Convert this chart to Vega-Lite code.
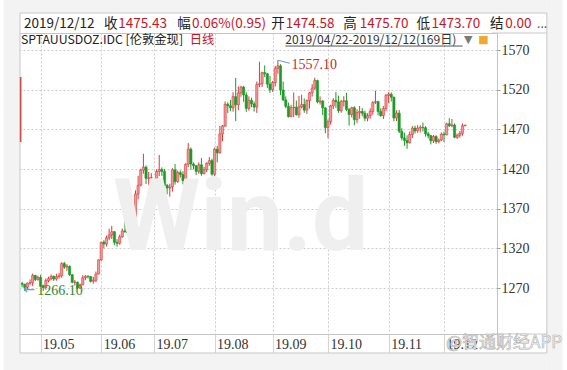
{
  "$schema": "https://vega.github.io/schema/vega-lite/v6.json",
  "width": 482,
  "height": 301,
  "autosize": {"type": "none"},
  "padding": {"left": 15, "top": 33, "right": 70, "bottom": 36},
  "background": "#ffffff",
  "config": {"view": {"stroke": "#c4c4c4", "fill": "#ffffff"}},
  "datasets": {
    "candles": [
      {"date":"2019-04-22","open":1275.6,"high":1277.9,"low":1270.8,"close":1274.6},
      {"date":"2019-04-23","open":1274.6,"high":1275.5,"low":1266.1,"close":1270.8},
      {"date":"2019-04-24","open":1270.8,"high":1277.0,"low":1267.5,"close":1276.3},
      {"date":"2019-04-25","open":1276.3,"high":1280.8,"low":1273.4,"close":1276.6},
      {"date":"2019-04-26","open":1276.6,"high":1288.2,"low":1272.4,"close":1285.9},
      {"date":"2019-04-29","open":1285.9,"high":1286.6,"low":1278.8,"close":1280.8},
      {"date":"2019-04-30","open":1280.8,"high":1285.5,"low":1279.2,"close":1283.5},
      {"date":"2019-05-01","open":1283.5,"high":1286.6,"low":1271.7,"close":1272.9},
      {"date":"2019-05-02","open":1272.9,"high":1274.2,"low":1266.3,"close":1270.6},
      {"date":"2019-05-03","open":1270.6,"high":1282.0,"low":1267.8,"close":1279.3},
      {"date":"2019-05-06","open":1279.3,"high":1284.3,"low":1277.0,"close":1281.7},
      {"date":"2019-05-07","open":1281.7,"high":1287.0,"low":1279.5,"close":1284.6},
      {"date":"2019-05-08","open":1284.6,"high":1285.8,"low":1278.8,"close":1281.3},
      {"date":"2019-05-09","open":1281.3,"high":1288.0,"low":1279.2,"close":1284.3},
      {"date":"2019-05-10","open":1284.3,"high":1289.0,"low":1281.9,"close":1285.4},
      {"date":"2019-05-13","open":1285.4,"high":1302.5,"low":1283.0,"close":1300.8},
      {"date":"2019-05-14","open":1300.8,"high":1303.0,"low":1294.0,"close":1296.3},
      {"date":"2019-05-15","open":1296.3,"high":1300.2,"low":1291.5,"close":1297.3},
      {"date":"2019-05-16","open":1297.3,"high":1298.5,"low":1285.3,"close":1286.6},
      {"date":"2019-05-17","open":1286.6,"high":1287.5,"low":1275.9,"close":1277.2},
      {"date":"2019-05-20","open":1277.2,"high":1280.1,"low":1273.0,"close":1277.4},
      {"date":"2019-05-21","open":1277.4,"high":1278.0,"low":1268.9,"close":1269.9},
      {"date":"2019-05-22","open":1269.9,"high":1275.6,"low":1269.0,"close":1274.0},
      {"date":"2019-05-23","open":1274.0,"high":1286.2,"low":1273.4,"close":1283.0},
      {"date":"2019-05-24","open":1283.0,"high":1286.1,"low":1280.0,"close":1284.9},
      {"date":"2019-05-27","open":1284.9,"high":1286.1,"low":1281.9,"close":1284.4},
      {"date":"2019-05-28","open":1284.4,"high":1285.0,"low":1276.9,"close":1278.4},
      {"date":"2019-05-29","open":1278.4,"high":1284.2,"low":1275.4,"close":1279.8},
      {"date":"2019-05-30","open":1279.8,"high":1290.8,"low":1277.4,"close":1287.6},
      {"date":"2019-05-31","open":1287.6,"high":1306.0,"low":1287.1,"close":1305.6},
      {"date":"2019-06-03","open":1305.6,"high":1328.6,"low":1303.9,"close":1327.6},
      {"date":"2019-06-04","open":1327.6,"high":1330.2,"low":1320.0,"close":1325.4},
      {"date":"2019-06-05","open":1325.4,"high":1336.0,"low":1322.3,"close":1333.3},
      {"date":"2019-06-06","open":1333.3,"high":1344.8,"low":1330.6,"close":1336.8},
      {"date":"2019-06-07","open":1336.8,"high":1348.3,"low":1331.9,"close":1341.0},
      {"date":"2019-06-10","open":1341.0,"high":1341.6,"low":1323.9,"close":1327.5},
      {"date":"2019-06-11","open":1327.5,"high":1331.6,"low":1322.1,"close":1326.3},
      {"date":"2019-06-12","open":1326.3,"high":1337.3,"low":1324.6,"close":1334.5},
      {"date":"2019-06-13","open":1334.5,"high":1345.0,"low":1333.3,"close":1342.0},
      {"date":"2019-06-14","open":1342.0,"high":1358.3,"low":1339.6,"close":1341.0},
      {"date":"2019-06-17","open":1341.0,"high":1342.3,"low":1336.6,"close":1339.4},
      {"date":"2019-06-18","open":1339.4,"high":1355.7,"low":1334.0,"close":1346.3},
      {"date":"2019-06-19","open":1346.3,"high":1361.3,"low":1340.9,"close":1360.2},
      {"date":"2019-06-20","open":1360.2,"high":1393.1,"low":1359.1,"close":1388.4},
      {"date":"2019-06-21","open":1388.4,"high":1411.5,"low":1381.6,"close":1399.5},
      {"date":"2019-06-24","open":1399.5,"high":1420.3,"low":1398.0,"close":1418.6},
      {"date":"2019-06-25","open":1418.6,"high":1439.2,"low":1414.1,"close":1422.3},
      {"date":"2019-06-26","open":1422.3,"high":1424.6,"low":1401.1,"close":1408.2},
      {"date":"2019-06-27","open":1408.2,"high":1416.4,"low":1400.2,"close":1408.9},
      {"date":"2019-06-28","open":1408.9,"high":1414.7,"low":1398.8,"close":1409.2},
      {"date":"2019-07-01","open":1395.0,"high":1395.9,"low":1381.9,"close":1384.4},
      {"date":"2019-07-02","open":1384.4,"high":1419.5,"low":1383.0,"close":1416.8},
      {"date":"2019-07-03","open":1416.8,"high":1437.7,"low":1411.1,"close":1419.4},
      {"date":"2019-07-04","open":1419.4,"high":1422.0,"low":1411.3,"close":1417.0},
      {"date":"2019-07-05","open":1417.0,"high":1420.1,"low":1386.3,"close":1399.4},
      {"date":"2019-07-08","open":1399.4,"high":1401.0,"low":1388.1,"close":1396.0},
      {"date":"2019-07-09","open":1396.0,"high":1401.5,"low":1385.1,"close":1397.4},
      {"date":"2019-07-10","open":1397.4,"high":1421.0,"low":1391.5,"close":1419.0},
      {"date":"2019-07-11","open":1419.0,"high":1426.3,"low":1400.3,"close":1404.0},
      {"date":"2019-07-12","open":1404.0,"high":1418.0,"low":1402.7,"close":1415.5},
      {"date":"2019-07-15","open":1415.5,"high":1418.2,"low":1409.0,"close":1413.0},
      {"date":"2019-07-16","open":1413.0,"high":1417.3,"low":1400.6,"close":1405.5},
      {"date":"2019-07-17","open":1405.5,"high":1427.2,"low":1403.8,"close":1426.0},
      {"date":"2019-07-18","open":1426.0,"high":1452.6,"low":1422.5,"close":1445.0},
      {"date":"2019-07-19","open":1445.0,"high":1447.1,"low":1419.0,"close":1426.3},
      {"date":"2019-07-22","open":1426.3,"high":1428.3,"low":1419.7,"close":1424.0},
      {"date":"2019-07-23","open":1424.0,"high":1425.2,"low":1412.3,"close":1417.0},
      {"date":"2019-07-24","open":1417.0,"high":1428.3,"low":1414.1,"close":1425.3},
      {"date":"2019-07-25","open":1425.3,"high":1433.7,"low":1411.6,"close":1414.1},
      {"date":"2019-07-26","open":1414.1,"high":1422.8,"low":1413.3,"close":1419.2},
      {"date":"2019-07-29","open":1419.2,"high":1428.5,"low":1416.0,"close":1427.0},
      {"date":"2019-07-30","open":1427.0,"high":1435.0,"low":1424.0,"close":1430.6},
      {"date":"2019-07-31","open":1430.6,"high":1433.0,"low":1411.5,"close":1413.5},
      {"date":"2019-08-01","open":1413.5,"high":1447.1,"low":1400.2,"close":1445.0},
      {"date":"2019-08-02","open":1445.0,"high":1449.0,"low":1428.5,"close":1440.4},
      {"date":"2019-08-05","open":1440.4,"high":1474.4,"low":1439.3,"close":1464.2},
      {"date":"2019-08-06","open":1464.2,"high":1475.5,"low":1455.1,"close":1474.3},
      {"date":"2019-08-07","open":1474.3,"high":1505.3,"low":1473.0,"close":1501.6},
      {"date":"2019-08-08","open":1501.6,"high":1504.2,"low":1490.5,"close":1499.7},
      {"date":"2019-08-09","open":1499.7,"high":1507.2,"low":1492.8,"close":1497.2},
      {"date":"2019-08-12","open":1497.2,"high":1516.8,"low":1492.3,"close":1511.2},
      {"date":"2019-08-13","open":1511.2,"high":1534.9,"low":1480.4,"close":1501.0},
      {"date":"2019-08-14","open":1501.0,"high":1524.2,"low":1494.1,"close":1516.0},
      {"date":"2019-08-15","open":1516.0,"high":1524.8,"low":1511.0,"close":1523.3},
      {"date":"2019-08-16","open":1523.3,"high":1524.9,"low":1504.6,"close":1513.3},
      {"date":"2019-08-19","open":1513.3,"high":1516.7,"low":1492.0,"close":1496.4},
      {"date":"2019-08-20","open":1496.4,"high":1511.5,"low":1493.5,"close":1506.6},
      {"date":"2019-08-21","open":1506.6,"high":1510.0,"low":1498.0,"close":1502.0},
      {"date":"2019-08-22","open":1502.0,"high":1505.0,"low":1492.4,"close":1498.0},
      {"date":"2019-08-23","open":1498.0,"high":1530.4,"low":1490.7,"close":1526.6},
      {"date":"2019-08-26","open":1526.6,"high":1555.2,"low":1523.0,"close":1527.5},
      {"date":"2019-08-27","open":1527.5,"high":1542.7,"low":1523.3,"close":1541.5},
      {"date":"2019-08-28","open":1541.5,"high":1550.6,"low":1535.8,"close":1540.0},
      {"date":"2019-08-29","open":1540.0,"high":1541.3,"low":1522.0,"close":1527.0},
      {"date":"2019-08-30","open":1527.0,"high":1537.3,"low":1516.0,"close":1520.0},
      {"date":"2019-09-02","open":1520.0,"high":1531.0,"low":1517.3,"close":1529.0},
      {"date":"2019-09-03","open":1529.0,"high":1550.0,"low":1523.8,"close":1547.0},
      {"date":"2019-09-04","open":1547.0,"high":1557.1,"low":1540.0,"close":1550.0},
      {"date":"2019-09-05","open":1550.0,"high":1552.0,"low":1513.0,"close":1519.5},
      {"date":"2019-09-06","open":1519.5,"high":1530.2,"low":1505.8,"close":1507.0},
      {"date":"2019-09-09","open":1507.0,"high":1511.5,"low":1496.6,"close":1499.0},
      {"date":"2019-09-10","open":1499.0,"high":1503.7,"low":1484.9,"close":1486.0},
      {"date":"2019-09-11","open":1486.0,"high":1501.0,"low":1485.4,"close":1497.4},
      {"date":"2019-09-12","open":1497.4,"high":1516.4,"low":1485.4,"close":1498.0},
      {"date":"2019-09-13","open":1498.0,"high":1506.4,"low":1487.2,"close":1488.5},
      {"date":"2019-09-16","open":1488.5,"high":1512.0,"low":1484.6,"close":1498.4},
      {"date":"2019-09-17","open":1498.4,"high":1513.7,"low":1496.3,"close":1501.3},
      {"date":"2019-09-18","open":1501.3,"high":1509.0,"low":1490.8,"close":1494.2},
      {"date":"2019-09-19","open":1494.2,"high":1507.7,"low":1489.5,"close":1506.3},
      {"date":"2019-09-20","open":1506.3,"high":1517.2,"low":1496.3,"close":1516.0},
      {"date":"2019-09-23","open":1516.0,"high":1527.0,"low":1511.2,"close":1522.0},
      {"date":"2019-09-24","open":1522.0,"high":1535.1,"low":1519.6,"close":1531.5},
      {"date":"2019-09-25","open":1531.5,"high":1532.6,"low":1502.8,"close":1504.5},
      {"date":"2019-09-26","open":1504.5,"high":1511.6,"low":1501.3,"close":1505.7},
      {"date":"2019-09-27","open":1505.7,"high":1507.0,"low":1488.0,"close":1497.0},
      {"date":"2019-09-30","open":1497.0,"high":1497.8,"low":1465.0,"close":1472.3},
      {"date":"2019-10-01","open":1472.3,"high":1482.5,"low":1458.9,"close":1479.5},
      {"date":"2019-10-02","open":1479.5,"high":1501.0,"low":1475.9,"close":1499.5},
      {"date":"2019-10-03","open":1499.5,"high":1509.3,"low":1495.6,"close":1506.5},
      {"date":"2019-10-04","open":1506.5,"high":1517.2,"low":1497.1,"close":1504.6},
      {"date":"2019-10-07","open":1504.6,"high":1512.5,"low":1490.8,"close":1493.5},
      {"date":"2019-10-08","open":1493.5,"high":1507.3,"low":1491.0,"close":1505.1},
      {"date":"2019-10-09","open":1505.1,"high":1511.8,"low":1498.8,"close":1506.0},
      {"date":"2019-10-10","open":1506.0,"high":1516.0,"low":1492.9,"close":1495.0},
      {"date":"2019-10-11","open":1495.0,"high":1497.0,"low":1474.7,"close":1488.7},
      {"date":"2019-10-14","open":1488.7,"high":1498.5,"low":1485.1,"close":1497.3},
      {"date":"2019-10-15","open":1497.3,"high":1499.0,"low":1475.3,"close":1482.3},
      {"date":"2019-10-16","open":1482.3,"high":1495.3,"low":1478.1,"close":1491.0},
      {"date":"2019-10-17","open":1491.0,"high":1499.4,"low":1483.4,"close":1492.5},
      {"date":"2019-10-18","open":1492.5,"high":1496.8,"low":1486.5,"close":1490.2},
      {"date":"2019-10-21","open":1490.2,"high":1493.5,"low":1480.5,"close":1484.0},
      {"date":"2019-10-22","open":1484.0,"high":1490.3,"low":1480.0,"close":1487.3},
      {"date":"2019-10-23","open":1487.3,"high":1496.5,"low":1483.3,"close":1492.5},
      {"date":"2019-10-24","open":1492.5,"high":1505.4,"low":1488.3,"close":1504.1},
      {"date":"2019-10-25","open":1504.1,"high":1518.7,"low":1502.0,"close":1504.9},
      {"date":"2019-10-28","open":1504.9,"high":1506.0,"low":1487.5,"close":1492.4},
      {"date":"2019-10-29","open":1492.4,"high":1496.4,"low":1485.9,"close":1487.3},
      {"date":"2019-10-30","open":1487.3,"high":1499.3,"low":1483.0,"close":1496.2},
      {"date":"2019-10-31","open":1496.2,"high":1514.7,"low":1492.8,"close":1512.8},
      {"date":"2019-11-01","open":1512.8,"high":1516.9,"low":1503.0,"close":1514.3},
      {"date":"2019-11-04","open":1514.3,"high":1516.5,"low":1505.0,"close":1510.5},
      {"date":"2019-11-05","open":1510.5,"high":1511.3,"low":1480.1,"close":1484.3},
      {"date":"2019-11-06","open":1484.3,"high":1494.0,"low":1480.5,"close":1490.5},
      {"date":"2019-11-07","open":1490.5,"high":1494.5,"low":1465.2,"close":1467.5},
      {"date":"2019-11-08","open":1467.5,"high":1471.5,"low":1456.1,"close":1459.2},
      {"date":"2019-11-11","open":1459.2,"high":1465.8,"low":1449.1,"close":1456.0},
      {"date":"2019-11-12","open":1456.0,"high":1462.4,"low":1445.5,"close":1453.0},
      {"date":"2019-11-13","open":1453.0,"high":1467.3,"low":1452.0,"close":1463.5},
      {"date":"2019-11-14","open":1463.5,"high":1474.1,"low":1459.1,"close":1471.5},
      {"date":"2019-11-15","open":1471.5,"high":1474.6,"low":1464.7,"close":1468.1},
      {"date":"2019-11-18","open":1468.1,"high":1475.2,"low":1465.7,"close":1471.5},
      {"date":"2019-11-19","open":1471.5,"high":1475.0,"low":1466.1,"close":1472.5},
      {"date":"2019-11-20","open":1472.5,"high":1478.5,"low":1467.4,"close":1472.0},
      {"date":"2019-11-21","open":1472.0,"high":1474.1,"low":1460.7,"close":1464.3},
      {"date":"2019-11-22","open":1464.3,"high":1466.8,"low":1458.5,"close":1462.0},
      {"date":"2019-11-25","open":1462.0,"high":1463.0,"low":1451.0,"close":1455.5},
      {"date":"2019-11-26","open":1455.5,"high":1462.8,"low":1452.7,"close":1461.0},
      {"date":"2019-11-27","open":1461.0,"high":1462.6,"low":1451.8,"close":1454.5},
      {"date":"2019-11-28","open":1454.5,"high":1458.4,"low":1452.5,"close":1456.5},
      {"date":"2019-11-29","open":1456.5,"high":1466.0,"low":1455.0,"close":1464.0},
      {"date":"2019-12-02","open":1464.0,"high":1467.0,"low":1454.0,"close":1463.0},
      {"date":"2019-12-03","open":1463.0,"high":1478.3,"low":1462.5,"close":1477.0},
      {"date":"2019-12-04","open":1477.0,"high":1484.0,"low":1473.0,"close":1474.5},
      {"date":"2019-12-05","open":1474.5,"high":1483.0,"low":1472.6,"close":1475.5},
      {"date":"2019-12-06","open":1475.5,"high":1477.5,"low":1458.8,"close":1460.0},
      {"date":"2019-12-09","open":1460.0,"high":1464.5,"low":1458.0,"close":1462.5},
      {"date":"2019-12-10","open":1462.5,"high":1468.0,"low":1459.5,"close":1465.0},
      {"date":"2019-12-11","open":1465.0,"high":1477.5,"low":1462.0,"close":1474.5},
      {"date":"2019-12-12","open":1474.58,"high":1475.70,"low":1473.70,"close":1475.43}
    ],
    "one": [{}]
  },
  "layer": [
    {
      "data": {"name": "candles"},
      "transform": [{"window": [{"op": "row_number", "as": "i"}]}],
      "layer": [
        {
          "mark": {"type": "rule", "strokeWidth": 1},
          "encoding": {
            "x": {
              "field": "i", "type": "quantitative",
              "scale": {"domain": [0.2, 179.2], "nice": false, "zero": false},
              "axis": {
                "orient": "bottom",
                "values": [8, 31, 51, 74, 96, 117, 140, 161],
                "labelExpr": "['19.05','19.06','19.07','19.08','19.09','19.10','19.11','19.12'][indexof([8,31,51,74,96,117,140,161], datum.value)]",
                "grid": true, "gridColor": "#cccccc", "gridDash": [2, 2], "gridWidth": 1,
                "domain": false,
                "ticks": true, "tickSize": 19, "tickColor": "#d4d4d4",
                "labelAlign": "left", "labelBaseline": "top", "labelPadding": -16, "labelOffset": 2,
                "labelFont": "Liberation Serif", "labelFontSize": 14, "labelColor": "#333333",
                "labelOverlap": false, "labelFlush": false, "labelBound": false,
                "title": null
              }
            },
            "y": {
              "field": "low", "type": "quantitative",
              "scale": {"domain": [1212.02, 1591.43], "nice": false, "zero": false},
              "axis": {
                "orient": "right",
                "values": [1270, 1320, 1370, 1420, 1470, 1520, 1570],
                "format": "d",
                "grid": true, "gridColor": "#cccccc", "gridDash": [2, 2], "gridWidth": 1,
                "domain": false,
                "ticks": true, "tickSize": 3, "tickColor": "#999999",
                "labelPadding": 1, "labelAlign": "left", "labelBaseline": "middle",
                "labelFont": "Liberation Serif", "labelFontSize": 14, "labelColor": "#333333",
                "labelOverlap": false, "labelFlush": false, "labelBound": false,
                "title": null
              }
            },
            "y2": {"field": "high"},
            "color": {"condition": {"test": "datum.close >= datum.open", "value": "#d83a3a"}, "value": "#1f9a28"}
          }
        },
        {
          "mark": {"type": "bar", "width": 2.2, "strokeWidth": 0.6},
          "encoding": {
            "x": {"field": "i", "type": "quantitative", "scale": {"domain": [0.2, 179.2], "nice": false, "zero": false}, "axis": {"title": null}},
            "y": {"field": "open", "type": "quantitative", "scale": {"domain": [1212.02, 1591.43], "nice": false, "zero": false}, "axis": {"title": null}},
            "y2": {"field": "close"},
            "fill": {"condition": {"test": "datum.close >= datum.open", "value": "#ee9a9a"}, "value": "#1f9a28"},
            "stroke": {"condition": {"test": "datum.close >= datum.open", "value": "#d83a3a"}, "value": "#1f9a28"}
          }
        },
        {
          "transform": [
            {"joinaggregate": [{"op": "max", "field": "high", "as": "mx"}]},
            {"filter": "datum.high == datum.mx"}
          ],
          "layer": [
            {
              "mark": {"type": "rule", "color": "#6b9bd2", "strokeWidth": 1, "x2Offset": 12, "y2Offset": 3, "clip": false},
              "encoding": {
                "x": {"field": "i", "type": "quantitative", "scale": {"domain": [0.2, 179.2], "nice": false, "zero": false}, "axis": {"title": null}},
                "x2": {"field": "i"},
                "y": {"field": "high", "type": "quantitative", "scale": {"domain": [1212.02, 1591.43], "nice": false, "zero": false}, "axis": {"title": null}},
                "y2": {"field": "high"}
              }
            },
            {
              "mark": {"type": "text", "align": "left", "baseline": "middle", "dx": 13.6, "dy": 4.9, "font": "Liberation Serif", "fontSize": 14, "color": "#c0282d", "clip": false},
              "encoding": {
                "x": {"field": "i", "type": "quantitative", "scale": {"domain": [0.2, 179.2], "nice": false, "zero": false}, "axis": {"title": null}},
                "y": {"field": "high", "type": "quantitative", "scale": {"domain": [1212.02, 1591.43], "nice": false, "zero": false}, "axis": {"title": null}},
                "text": {"field": "high", "type": "quantitative", "format": ".2f"}
              }
            }
          ]
        },
        {
          "transform": [
            {"joinaggregate": [{"op": "min", "field": "low", "as": "mn"}]},
            {"filter": "datum.low == datum.mn"}
          ],
          "layer": [
            {
              "mark": {"type": "text", "text": "←", "align": "left", "baseline": "middle", "dx": -1.5, "dy": -1, "font": "DejaVu Sans", "fontSize": 14, "color": "#6b9bd2", "clip": false},
              "encoding": {
                "x": {"field": "i", "type": "quantitative", "scale": {"domain": [0.2, 179.2], "nice": false, "zero": false}, "axis": {"title": null}},
                "y": {"field": "low", "type": "quantitative", "scale": {"domain": [1212.02, 1591.43], "nice": false, "zero": false}, "axis": {"title": null}}
              }
            },
            {
              "mark": {"type": "text", "align": "left", "baseline": "middle", "dx": 12.5, "dy": 0, "font": "Liberation Serif", "fontSize": 14, "color": "#2a8a2a", "clip": false},
              "encoding": {
                "x": {"field": "i", "type": "quantitative", "scale": {"domain": [0.2, 179.2], "nice": false, "zero": false}, "axis": {"title": null}},
                "y": {"field": "low", "type": "quantitative", "scale": {"domain": [1212.02, 1591.43], "nice": false, "zero": false}, "axis": {"title": null}},
                "text": {"field": "low", "type": "quantitative", "format": ".2f"}
              }
            }
          ]
        }
      ]
    },
    {
      "data": {"name": "one"},
      "mark": {"type": "rect", "color": "#f3f3f3", "clip": false},
      "encoding": {
        "x": {"datum": -6, "type": "quantitative", "scale": {"domain": [0.2, 179.2], "nice": false, "zero": false}, "axis": {"title": null}},
        "x2": {"datum": 0.2},
        "y": {"datum": 1640, "type": "quantitative", "scale": {"domain": [1212.02, 1591.43], "nice": false, "zero": false}, "axis": {"title": null}},
        "y2": {"datum": 1160}
      }
    },
    {
      "data": {"name": "one"},
      "mark": {"type": "rect", "color": "#f3f3f3", "clip": false},
      "encoding": {
        "x": {"datum": 200.0, "type": "quantitative", "scale": {"domain": [0.2, 179.2], "nice": false, "zero": false}, "axis": {"title": null}},
        "x2": {"datum": 206},
        "y": {"datum": 1640, "type": "quantitative", "scale": {"domain": [1212.02, 1591.43], "nice": false, "zero": false}, "axis": {"title": null}},
        "y2": {"datum": 1160}
      }
    },
    {
      "data": {"name": "one"},
      "mark": {"type": "rect", "color": "#f3f3f3", "clip": false},
      "encoding": {
        "x": {"datum": 0.2, "type": "quantitative", "scale": {"domain": [0.2, 179.2], "nice": false, "zero": false}, "axis": {"title": null}},
        "x2": {"datum": 200.0},
        "y": {"datum": 1640, "type": "quantitative", "scale": {"domain": [1212.02, 1591.43], "nice": false, "zero": false}, "axis": {"title": null}},
        "y2": {"datum": 1616.6}
      }
    },
    {
      "data": {"name": "one"},
      "mark": {"type": "rect", "color": "#f3f3f3", "clip": false},
      "encoding": {
        "x": {"datum": 0.2, "type": "quantitative", "scale": {"domain": [0.2, 179.2], "nice": false, "zero": false}, "axis": {"title": null}},
        "x2": {"datum": 200.0},
        "y": {"datum": 1188.1, "type": "quantitative", "scale": {"domain": [1212.02, 1591.43], "nice": false, "zero": false}, "axis": {"title": null}},
        "y2": {"datum": 1160}
      }
    },
    {
      "data": {"name": "one"},
      "mark": {"type": "rect", "filled": false, "stroke": "#c8c8c8", "strokeWidth": 1, "clip": false},
      "encoding": {
        "x": {"datum": 0.2, "type": "quantitative", "scale": {"domain": [0.2, 179.2], "nice": false, "zero": false}, "axis": {"title": null}},
        "x2": {"datum": 200.0},
        "y": {"datum": 1616.6, "type": "quantitative", "scale": {"domain": [1212.02, 1591.43], "nice": false, "zero": false}, "axis": {"title": null}},
        "y2": {"datum": 1188.1}
      }
    },
    {
      "data": {"name": "one"},
      "mark": {"type": "rule", "color": "#c8c8c8", "strokeWidth": 1, "clip": false},
      "encoding": {
        "x": {"datum": 179.2, "type": "quantitative", "scale": {"domain": [0.2, 179.2], "nice": false, "zero": false}, "axis": {"title": null}},
        "x2": {"datum": 200.0},
        "y": {"datum": 1591.43, "type": "quantitative", "scale": {"domain": [1212.02, 1591.43], "nice": false, "zero": false}, "axis": {"title": null}}
      }
    },
    {
      "data": {"name": "one"},
      "mark": {"type": "rule", "color": "#c8c8c8", "strokeWidth": 1, "clip": false},
      "encoding": {
        "x": {"datum": 179.2, "type": "quantitative", "scale": {"domain": [0.2, 179.2], "nice": false, "zero": false}, "axis": {"title": null}},
        "x2": {"datum": 200.0},
        "y": {"datum": 1212.02, "type": "quantitative", "scale": {"domain": [1212.02, 1591.43], "nice": false, "zero": false}, "axis": {"title": null}}
      }
    },
    {
      "data": {"name": "one"},
      "mark": {"type": "text", "text": "Win.d", "font": "Roboto", "fontWeight": "bold", "fontSize": 100, "align": "left", "baseline": "alphabetic", "color": "#efefef", "clip": false},
      "encoding": {
        "x": {"datum": 35.5, "type": "quantitative", "scale": {"domain": [0.2, 179.2], "nice": false, "zero": false}, "axis": {"title": null}},
        "y": {"datum": 1317.9, "type": "quantitative", "scale": {"domain": [1212.02, 1591.43], "nice": false, "zero": false}, "axis": {"title": null}}
      }
    },
    {
      "data": {"name": "one"},
      "mark": {"type": "rule", "color": "#cc4b4b", "strokeWidth": 1.6, "clip": false},
      "encoding": {
        "x": {"datum": 0.45, "type": "quantitative", "scale": {"domain": [0.2, 179.2], "nice": false, "zero": false}, "axis": {"title": null}},
        "y": {"datum": 1536.0, "type": "quantitative", "scale": {"domain": [1212.02, 1591.43], "nice": false, "zero": false}, "axis": {"title": null}},
        "y2": {"datum": 1454.0}
      }
    },
    {
      "data": {"name": "one"},
      "encoding": {
        "y": {"datum": 1602.6, "type": "quantitative", "scale": {"domain": [1212.02, 1591.43], "nice": false, "zero": false}, "axis": {"title": null}}
      },
      "layer": [
        {"mark": {"type": "text", "text": "2019/12/12", "align": "left", "baseline": "middle", "font": "Noto Sans CJK SC", "fontSize": 13.5, "color": "#222222", "clip": false},
         "encoding": {"x": {"datum": 1.69, "type": "quantitative", "scale": {"domain": [0.2, 179.2], "nice": false, "zero": false}, "axis": {"title": null}}}},
        {"mark": {"type": "text", "text": "收", "align": "left", "baseline": "middle", "font": "Noto Sans CJK SC", "fontSize": 13.5, "color": "#222222", "clip": false},
         "encoding": {"x": {"datum": 32.03, "type": "quantitative", "scale": {"domain": [0.2, 179.2], "nice": false, "zero": false}, "axis": {"title": null}}}},
        {"mark": {"type": "text", "text": "1475.43", "align": "left", "baseline": "middle", "font": "Noto Sans CJK SC", "fontSize": 13.5, "color": "#c8141e", "clip": false},
         "encoding": {"x": {"datum": 37.5, "type": "quantitative", "scale": {"domain": [0.2, 179.2], "nice": false, "zero": false}, "axis": {"title": null}}}},
        {"mark": {"type": "text", "text": "幅", "align": "left", "baseline": "middle", "font": "Noto Sans CJK SC", "fontSize": 13.5, "color": "#222222", "clip": false},
         "encoding": {"x": {"datum": 59.81, "type": "quantitative", "scale": {"domain": [0.2, 179.2], "nice": false, "zero": false}, "axis": {"title": null}}}},
        {"mark": {"type": "text", "text": "0.06%(0.95)", "align": "left", "baseline": "middle", "font": "Noto Sans CJK SC", "fontSize": 13.5, "color": "#c8141e", "clip": false},
         "encoding": {"x": {"datum": 65.4, "type": "quantitative", "scale": {"domain": [0.2, 179.2], "nice": false, "zero": false}, "axis": {"title": null}}}},
        {"mark": {"type": "text", "text": "开", "align": "left", "baseline": "middle", "font": "Noto Sans CJK SC", "fontSize": 13.5, "color": "#222222", "clip": false},
         "encoding": {"x": {"datum": 95.5, "type": "quantitative", "scale": {"domain": [0.2, 179.2], "nice": false, "zero": false}, "axis": {"title": null}}}},
        {"mark": {"type": "text", "text": "1474.58", "align": "left", "baseline": "middle", "font": "Noto Sans CJK SC", "fontSize": 13.5, "color": "#c8141e", "clip": false},
         "encoding": {"x": {"datum": 101.0, "type": "quantitative", "scale": {"domain": [0.2, 179.2], "nice": false, "zero": false}, "axis": {"title": null}}}},
        {"mark": {"type": "text", "text": "高", "align": "left", "baseline": "middle", "font": "Noto Sans CJK SC", "fontSize": 13.5, "color": "#222222", "clip": false},
         "encoding": {"x": {"datum": 122.75, "type": "quantitative", "scale": {"domain": [0.2, 179.2], "nice": false, "zero": false}, "axis": {"title": null}}}},
        {"mark": {"type": "text", "text": "1475.70", "align": "left", "baseline": "middle", "font": "Noto Sans CJK SC", "fontSize": 13.5, "color": "#c8141e", "clip": false},
         "encoding": {"x": {"datum": 129.07, "type": "quantitative", "scale": {"domain": [0.2, 179.2], "nice": false, "zero": false}, "axis": {"title": null}}}},
        {"mark": {"type": "text", "text": "低", "align": "left", "baseline": "middle", "font": "Noto Sans CJK SC", "fontSize": 13.5, "color": "#222222", "clip": false},
         "encoding": {"x": {"datum": 150.61, "type": "quantitative", "scale": {"domain": [0.2, 179.2], "nice": false, "zero": false}, "axis": {"title": null}}}},
        {"mark": {"type": "text", "text": "1473.70", "align": "left", "baseline": "middle", "font": "Noto Sans CJK SC", "fontSize": 13.5, "color": "#c8141e", "clip": false},
         "encoding": {"x": {"datum": 156.3, "type": "quantitative", "scale": {"domain": [0.2, 179.2], "nice": false, "zero": false}, "axis": {"title": null}}}},
        {"mark": {"type": "text", "text": "结", "align": "left", "baseline": "middle", "font": "Noto Sans CJK SC", "fontSize": 13.5, "color": "#222222", "clip": false},
         "encoding": {"x": {"datum": 178.46, "type": "quantitative", "scale": {"domain": [0.2, 179.2], "nice": false, "zero": false}, "axis": {"title": null}}}},
        {"mark": {"type": "text", "text": "0.00", "align": "left", "baseline": "middle", "font": "Noto Sans CJK SC", "fontSize": 13.5, "color": "#c8141e", "clip": false},
         "encoding": {"x": {"datum": 184.2, "type": "quantitative", "scale": {"domain": [0.2, 179.2], "nice": false, "zero": false}, "axis": {"title": null}}}},
        {"mark": {"type": "text", "text": "...", "align": "left", "baseline": "middle", "font": "Noto Sans CJK SC", "fontSize": 12, "color": "#555555", "clip": false},
         "encoding": {"x": {"datum": 196.29, "type": "quantitative", "scale": {"domain": [0.2, 179.2], "nice": false, "zero": false}, "axis": {"title": null}}}}
      ]
    },
    {
      "data": {"name": "one"},
      "encoding": {
        "y": {"datum": 1582.1, "type": "quantitative", "scale": {"domain": [1212.02, 1591.43], "nice": false, "zero": false}, "axis": {"title": null}}
      },
      "layer": [
        {"mark": {"type": "text", "text": "SPTAUUSDOZ.IDC [伦敦金现]", "align": "left", "baseline": "middle", "font": "Noto Sans CJK SC", "fontSize": 12.3, "color": "#222222", "clip": false},
         "encoding": {"x": {"datum": 0.57, "type": "quantitative", "scale": {"domain": [0.2, 179.2], "nice": false, "zero": false}, "axis": {"title": null}}}},
        {"mark": {"type": "text", "text": "日线", "align": "left", "baseline": "middle", "font": "Noto Sans CJK SC", "fontSize": 12.3, "color": "#c8141e", "clip": false},
         "encoding": {"x": {"datum": 64.6, "type": "quantitative", "scale": {"domain": [0.2, 179.2], "nice": false, "zero": false}, "axis": {"title": null}}}},
        {"mark": {"type": "text", "text": "2019/04/22-2019/12/12(169日)", "align": "left", "baseline": "middle", "font": "Noto Sans CJK SC", "fontSize": 12.1, "color": "#333333", "clip": false},
         "encoding": {"x": {"datum": 100.84, "type": "quantitative", "scale": {"domain": [0.2, 179.2], "nice": false, "zero": false}, "axis": {"title": null}}}},
        {"mark": {"type": "text", "text": "▼", "align": "left", "baseline": "middle", "font": "DejaVu Sans", "fontSize": 11, "color": "#7a7a7a", "clip": false},
         "encoding": {"x": {"datum": 168.6, "type": "quantitative", "scale": {"domain": [0.2, 179.2], "nice": false, "zero": false}, "axis": {"title": null}}}},
        {"mark": {"type": "text", "text": "■", "align": "left", "baseline": "middle", "font": "DejaVu Sans", "fontSize": 11, "color": "#f0a830", "clip": false},
         "encoding": {"x": {"datum": 174.0, "type": "quantitative", "scale": {"domain": [0.2, 179.2], "nice": false, "zero": false}, "axis": {"title": null}}}}
      ]
    },
    {
      "data": {"name": "one"},
      "mark": {"type": "rule", "color": "#555555", "strokeWidth": 1, "clip": false},
      "encoding": {
        "x": {"datum": 100.84, "type": "quantitative", "scale": {"domain": [0.2, 179.2], "nice": false, "zero": false}, "axis": {"title": null}},
        "x2": {"datum": 168.06},
        "y": {"datum": 1575.0, "type": "quantitative", "scale": {"domain": [1212.02, 1591.43], "nice": false, "zero": false}, "axis": {"title": null}}
      }
    },
    {
      "data": {"name": "one"},
      "mark": {"type": "text", "text": "@智通财经APP", "align": "left", "baseline": "middle", "font": "Noto Sans CJK SC", "fontSize": 17, "fill": "#f4f4f4", "stroke": "#b0b0b0", "strokeWidth": 0.6, "clip": false},
      "encoding": {
        "x": {"datum": 161.75, "type": "quantitative", "scale": {"domain": [0.2, 179.2], "nice": false, "zero": false}, "axis": {"title": null}},
        "y": {"datum": 1200.7, "type": "quantitative", "scale": {"domain": [1212.02, 1591.43], "nice": false, "zero": false}, "axis": {"title": null}}
      }
    }
  ]
}
